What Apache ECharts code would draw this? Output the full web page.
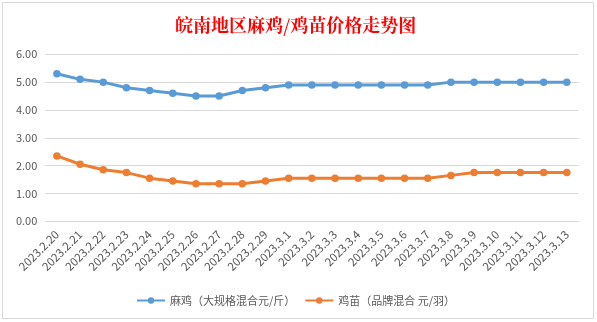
<!DOCTYPE html>
<html><head><meta charset="utf-8">
<script src="https://cdn.jsdelivr.net/npm/echarts@6/dist/echarts.min.js"></script>
<style>html,body{margin:0;padding:0;background:#fff}#c{width:597px;height:322px}</style>
</head><body><div id="c"></div>
<script>
var categories = ['2023.2.20','2023.2.21','2023.2.22','2023.2.23','2023.2.24','2023.2.25','2023.2.26','2023.2.27','2023.2.28','2023.2.29','2023.3.1','2023.3.2','2023.3.3','2023.3.4','2023.3.5','2023.3.6','2023.3.7','2023.3.8','2023.3.9','2023.3.10','2023.3.11','2023.3.12','2023.3.13'];
var maJi = [5.3,5.1,5.0,4.8,4.7,4.6,4.5,4.5,4.7,4.8,4.9,4.9,4.9,4.9,4.9,4.9,4.9,5.0,5.0,5.0,5.0,5.0,5.0];
var jiMiao = [2.35,2.05,1.85,1.75,1.55,1.45,1.35,1.35,1.35,1.45,1.55,1.55,1.55,1.55,1.55,1.55,1.55,1.65,1.75,1.75,1.75,1.75,1.75];
var seriesNames = ['麻鸡（大规格混合元/斤）','鸡苗（品牌混合 元/羽）'];
var titleText = '皖南地区麻鸡/鸡苗价格走势图';

var chart = echarts.init(document.getElementById('c'), null, {renderer:'canvas'});
var font = '"Microsoft YaHei","Noto Sans CJK SC",sans-serif';
chart.setOption({
  animation:false,
  backgroundColor:'#fff',
  graphic:[{type:'rect',shape:{x:2.5,y:2.5,width:591,height:316},style:{fill:'none',stroke:'#d9d9d9',lineWidth:1},silent:true}],
  title:{text:titleText,left:170,top:11,textStyle:{color:'#ff0000',fontSize:18,fontWeight:'bold',fontFamily:'"Noto Serif CJK SC","Noto Sans CJK SC",serif'}},
  grid:{left:45.3,right:18.6,top:54.3,bottom:100.7,containLabel:false},
  legend:{top:290,left:131,itemWidth:28,itemHeight:8,itemGap:9,
    textStyle:{color:'#595959',fontSize:11,fontFamily:font},
    data:seriesNames},
  xAxis:{type:'category',data:categories,boundaryGap:true,
    axisLine:{lineStyle:{color:'#d9d9d9'}},axisTick:{show:false},
    axisLabel:{rotate:45,interval:0,color:'#595959',fontSize:11.5,fontFamily:font,margin:11}},
  yAxis:{type:'value',min:0,max:6,interval:1,
    axisLine:{show:false},axisTick:{show:false},
    splitLine:{lineStyle:{color:'#d9d9d9'}},
    axisLabel:{formatter:function(v){return v.toFixed(2);},color:'#595959',fontSize:11,fontFamily:font,margin:8}},
  series:[
    {name:seriesNames[0],type:'line',data:maJi,symbol:'circle',symbolSize:7.5,
      itemStyle:{color:'#5b9bd5'},lineStyle:{width:3,color:'#5b9bd5'}},
    {name:seriesNames[1],type:'line',data:jiMiao,symbol:'circle',symbolSize:7.5,
      itemStyle:{color:'#ed7d31'},lineStyle:{width:3,color:'#ed7d31'}}
  ]
});
</script></body></html>
